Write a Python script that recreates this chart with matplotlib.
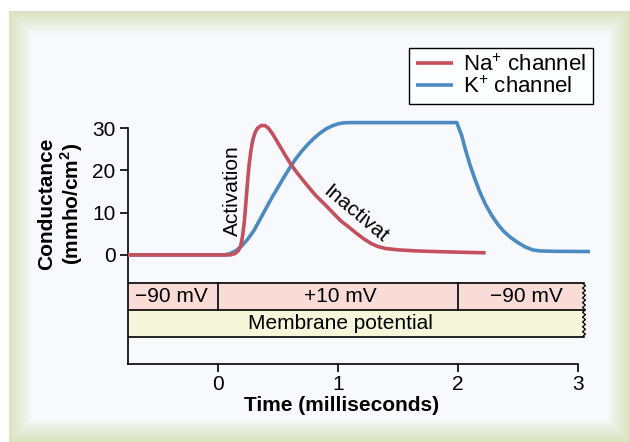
import numpy as np
import matplotlib
matplotlib.use("Agg")
import matplotlib.pyplot as plt
from matplotlib.patches import Rectangle
import matplotlib.transforms as mtransforms

plt.rcParams['font.family'] = ['Liberation Sans', 'DejaVu Sans']
plt.rcParams['mathtext.fontset'] = 'custom'
plt.rcParams['mathtext.rm'] = 'Liberation Sans'
plt.rcParams['mathtext.bf'] = 'Liberation Sans:bold'

# Na+ channel conductance
na_t = [-0.75, 0.10, 0.14, 0.17, 0.19, 0.205, 0.22, 0.23, 0.24, 0.25, 0.26, 0.275, 0.29,
        0.31, 0.33, 0.36, 0.39, 0.42, 0.46, 0.51, 0.56, 0.61, 0.66, 0.71, 0.76, 0.81,
        0.87, 0.93, 0.98, 1.03, 1.09, 1.15, 1.21, 1.27, 1.33, 1.40, 1.50, 1.65, 1.80,
        2.00, 2.23]
na_g = [0.0, 0.0, 0.3, 1.0, 2.2, 4.5, 8.0, 11.5, 15.0, 18.5, 21.5, 24.8, 27.2,
        29.0, 30.0, 30.6, 30.6, 30.0, 28.4, 26.0, 23.6, 21.3, 19.4, 17.6, 15.9, 14.2,
        12.5, 10.8, 9.3, 7.9, 6.6, 5.2, 3.9, 2.8, 2.0, 1.5, 1.2, 0.95, 0.8,
        0.65, 0.5]

# K+ channel conductance
k_t = [-0.75, 0.05, 0.10, 0.15, 0.20, 0.25, 0.30, 0.35, 0.40, 0.45, 0.50, 0.55, 0.60,
       0.65, 0.70, 0.75, 0.80, 0.85, 0.90, 0.95, 1.00, 1.05, 1.11, 1.99, 2.03, 2.06,
       2.10, 2.14, 2.18, 2.23, 2.28, 2.33, 2.38, 2.44, 2.50, 2.56, 2.62, 2.68, 2.80,
       3.10]
k_g = [0.0, 0.0, 0.3, 1.0, 2.2, 3.8, 5.8, 8.4, 11.0, 13.6, 16.0, 18.4, 20.7,
       22.8, 24.6, 26.2, 27.6, 28.8, 29.8, 30.5, 31.0, 31.25, 31.3, 31.3, 28.3, 25.1,
       21.3, 18.0, 15.0, 11.9, 9.4, 7.3, 5.6, 4.1, 2.9, 1.9, 1.2, 0.95, 0.85,
       0.8]

# membrane potential steps
step_start = [-0.75, 0.0, 2.0]
step_end = [0.0, 2.0, 3.05]
step_labels = ['\u221290 mV', '+10 mV', '\u221290 mV']
step_label_x = [-0.39, 1.02, 2.57]

na_color = '#c4505e'
k_color = '#4b8bc2'
pink = '#f9dcd8'
yellow = '#f6f6da'

fig = plt.figure(figsize=(6.3, 4.42), dpi=100)

# picture-frame background
W, H = 630, 442
yy, xx = np.mgrid[0:H, 0:W]
d = np.minimum.reduce([xx - 9, yy - 11, W - 1 - xx, H - 1 - yy]).astype(float)
t = np.clip(d / 22.0, 0, 1)[..., None]
green = np.array([0xdb, 0xe3, 0xc2]) / 255
inner = np.array([0xf8, 0xfa, 0xfd]) / 255
w = (1 - t) ** 0.8
img = green * w + inner * (1 - w)
img[(xx < 9) | (yy < 11)] = 1.0
bg = fig.add_axes([0, 0, 1, 1], zorder=-5)
bg.imshow(img, aspect='auto', interpolation='bilinear')
bg.axis('off')

ax = fig.add_axes([128 / W, 78 / H, (592.4 - 128) / W, 248.6 / H])
ax.set_facecolor('none')
ax.set_xlim(-0.75, 3.12)
ax.set_ylim(-25.8, 33)

# membrane potential bands
pink_top, mid, yel_bot = -6.7, -13.0, -19.3
for s, e in zip(step_start, step_end):
    ax.add_patch(Rectangle((s, mid), e - s, pink_top - mid, facecolor=pink, edgecolor='none', zorder=1))
ax.add_patch(Rectangle((-0.75, yel_bot), 3.05 + 0.75, mid - yel_bot, facecolor=yellow, edgecolor='none', zorder=1))
for yv in [pink_top, mid, yel_bot]:
    ax.plot([-0.75, 3.05], [yv, yv], color='black', lw=1.2, zorder=2)
for xv in [0.0, 2.0]:
    ax.plot([xv, xv], [mid, pink_top], color='black', lw=1.2, zorder=2)
zy = np.linspace(pink_top, yel_bot, 23)
zx = 3.05 + np.where(np.arange(len(zy)) % 2 == 0, -0.012, 0.012)
ax.plot(zx, zy, color='black', lw=0.9, zorder=2)

for lab, xv in zip(step_labels, step_label_x):
    ax.text(xv, (pink_top + mid) / 2, lab, ha='center', va='center', fontsize=15, zorder=3)
ax.text(1.02, (mid + yel_bot) / 2, 'Membrane potential', ha='center', va='center', fontsize=15, zorder=3)

# conductance curves
ax.plot(k_t, k_g, color=k_color, lw=2.6, solid_joinstyle='round', solid_capstyle='butt',
        label='K$^{+}$ channel', zorder=4)
ax.plot(na_t, na_g, color=na_color, lw=2.6, solid_joinstyle='round', solid_capstyle='butt',
        label='Na$^{+}$ channel', zorder=5)

ax.text(0.12, 15.1, 'Activation', rotation=90, ha='center', va='center', fontsize=15, zorder=6)
ax.text(1.15, 9.6, 'Inactivat', rotation=-40, ha='center', va='center', fontsize=15,
        rotation_mode='anchor', zorder=6)

# axes styling
for side in ['top', 'right']:
    ax.spines[side].set_visible(False)
ax.spines['left'].set_bounds(-25.8, 30)
ax.spines['bottom'].set_bounds(-0.75, 3)
ax.spines['left'].set_linewidth(1.2)
ax.spines['bottom'].set_linewidth(1.2)
ax.set_xticks([0, 1, 2, 3])
ax.set_yticks([0, 10, 20, 30])
ax.tick_params(axis='both', direction='out', length=6, width=1.2, labelsize=15)
ax.tick_params(axis='x', pad=2)
ax.tick_params(axis='y', pad=3)

blend = mtransforms.blended_transform_factory(ax.transData, ax.transAxes)
ax.text(1.03, -0.165, 'Time (milliseconds)', transform=blend, ha='center', va='center',
        fontsize=15, fontweight='bold')
ax.text(-1.31, 12.1, 'Conductance\n(mmho/cm$^{\\mathbf{2}}$)', rotation=90, ha='center', va='center',
        fontsize=15, fontweight='bold', linespacing=1.1, multialignment='center')

handles, labels = ax.get_legend_handles_labels()
leg = ax.legend(handles[::-1], labels[::-1], loc='upper right',
                bbox_to_anchor=(593 / W, 1 - 48 / H), bbox_transform=fig.transFigure,
                borderaxespad=0, fancybox=False, framealpha=1, edgecolor='black',
                facecolor='#fcfdfe', fontsize=16, handlelength=1.7, handletextpad=0.45,
                labelspacing=0.0, borderpad=0.3)
leg.get_frame().set_linewidth(1.0)

fig.savefig('out.png', dpi=100)
